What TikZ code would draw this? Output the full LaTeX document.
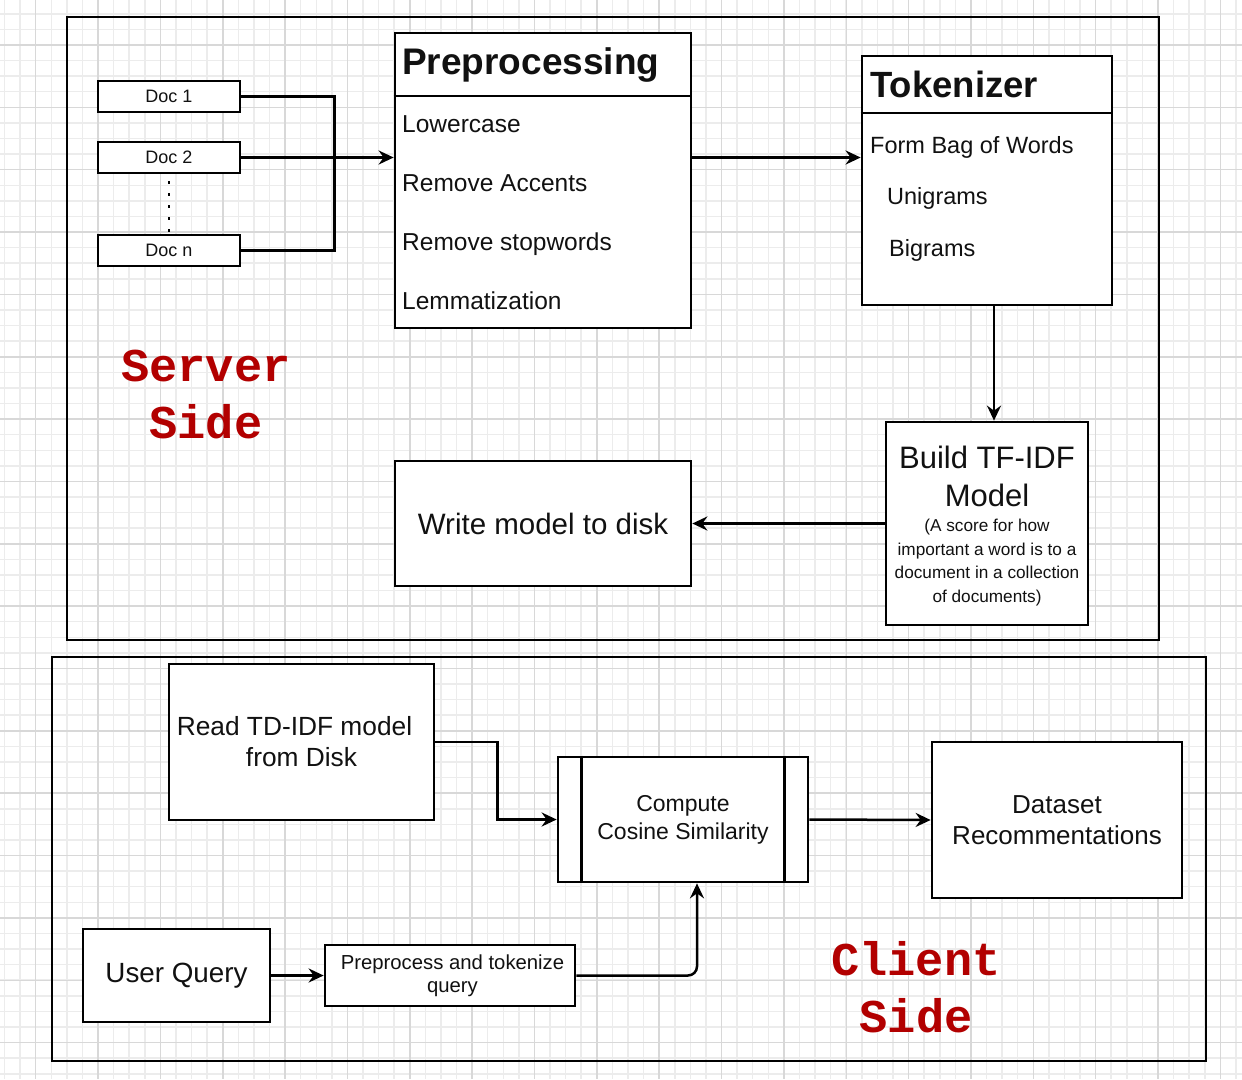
\documentclass[tikz,border=0pt]{standalone}
\usepackage{fontspec}
\setmainfont{Liberation Sans}
\setmonofont{Liberation Mono}
\usetikzlibrary{arrows.meta}
\definecolor{srvred}{RGB}{178,0,0}
\definecolor{gridminor}{RGB}{236,236,236}
\definecolor{gridmajor}{RGB}{216,216,216}
\definecolor{ink}{RGB}{17,17,17}
\newcommand\fsz[2]{\fontsize{#1}{#2}\selectfont}
\begin{document}
\begin{tikzpicture}[x=1pt,y=-1pt,
  box/.style={draw=black, line width=2.7pt, fill=white, inner sep=0pt, text=ink, align=center},
  frame/.style={draw=black, line width=2.7pt, inner sep=0pt},
  conn/.style={draw=black, line width=2.5pt},
  arr/.style={conn, -{Stealth[length=15pt,width=14pt,inset=5pt]}},
  lbl/.style={inner sep=0pt, anchor=base west, text=ink},
  bigred/.style={inner sep=0pt, align=center, text=srvred, font=\ttfamily\bfseries\fsz{47}{57}}
]
\useasboundingbox (0,0) rectangle (1242,1079);
\fill[white] (0,0) rectangle (1242,1079);
% grid
\foreach \i in {0,...,79} {
  \pgfmathsetmacro\gx{4.5+\i*15.5875}
  \draw[gridminor, line width=1.5pt] (\gx,0) -- (\gx,1079);
}
\foreach \i in {0,...,69} {
  \pgfmathsetmacro\gy{13.8+\i*15.5875}
  \draw[gridminor, line width=1.5pt] (0,\gy) -- (1242,\gy);
}
\foreach \i in {0,...,19} {
  \pgfmathsetmacro\gx{35.7+\i*62.35}
  \draw[gridmajor, line width=1.5pt] (\gx,0) -- (\gx,1079);
}
\foreach \i in {0,...,16} {
  \pgfmathsetmacro\gy{45+\i*62.35}
  \draw[gridmajor, line width=1.5pt] (0,\gy) -- (1242,\gy);
}

% outer frames
\node[frame, minimum width=1092, minimum height=623] (server) at (613,328.5) {};
\node[frame, minimum width=1154, minimum height=404] (client) at (629,859) {};

% server side boxes
\node[box, minimum width=142, minimum height=31, font=\fsz{18}{21}] (d1) at (169,96.5) {Doc 1};
\node[box, minimum width=142, minimum height=31, font=\fsz{18}{21}] (d2) at (169,157.5) {Doc 2};
\node[box, minimum width=142, minimum height=31, font=\fsz{18}{21}] (dn) at (169,250.5) {Doc n};

\node[box, minimum width=296, minimum height=295] (pre) at (543,180.5) {};
\draw[line width=2.7pt] (pre.west |- 0,96) -- (pre.east |- 0,96);
\node[lbl, font=\bfseries\fsz{37}{44}] (pretitle) at (402,74) {Preprocessing};
\node[lbl, font=\fsz{24.5}{29}] (pre1) at (402,132.5) {Lowercase};
\node[lbl, font=\fsz{24.5}{29}] (pre2) at (402,191.5) {Remove Accents};
\node[lbl, font=\fsz{24.5}{29}] (pre3) at (402,250.5) {Remove stopwords};
\node[lbl, font=\fsz{24.5}{29}] (pre4) at (402,309.5) {Lemmatization};

\node[box, minimum width=250, minimum height=249] (tok) at (987,180.5) {};
\draw[line width=2.7pt] (tok.west |- 0,113) -- (tok.east |- 0,113);
\node[lbl, font=\bfseries\fsz{36.5}{44}] (toktitle) at (870,97) {Tokenizer};
\node[lbl, font=\fsz{23.5}{28}] (tok1) at (870,153.5) {Form Bag of Words};
\node[lbl, font=\fsz{23.5}{28}] (tok2) at (887,204.5) {Unigrams};
\node[lbl, font=\fsz{23.5}{28}] (tok3) at (889,256.5) {Bigrams};

\node[box, minimum width=202, minimum height=203] (build) at (987,523.5) {};
\node[inner sep=0pt, align=center, text=ink, font=\fsz{31}{38}] (buildtitle) at (987,476) {Build TF-IDF\\Model};
\node[inner sep=0pt, align=center, text=ink, font=\fsz{17.2}{23.7}] (builddesc) at (987,562.5) {(A score for how\\important a word is to a\\document in a collection\\of documents)};

\node[box, minimum width=296, minimum height=125, font=\fsz{29.5}{35}] (write) at (543,523.5) {Write model to disk};

\node[bigred] (srvlabel) at (206,395) {Server\\Side};

% client side boxes
\node[box, minimum width=265, minimum height=156, font=\fsz{26.3}{31}] (read) at (301.5,742) {Read TD-IDF model\kern14pt\\from Disk};
\node[box, minimum width=250, minimum height=125, font=\fsz{23}{28}] (comp) at (683,819.5) {Compute\\Cosine Similarity};
\draw[line width=2.7pt] ([xshift=25pt]comp.north west) -- ([xshift=25pt]comp.south west);
\draw[line width=2.7pt] ([xshift=-25pt]comp.north east) -- ([xshift=-25pt]comp.south east);
\node[box, minimum width=250, minimum height=156, font=\fsz{26}{31}] (data) at (1057,820) {Dataset\\Recommentations};
\node[box, minimum width=187, minimum height=93, font=\fsz{27.8}{33}] (uq) at (176.5,975.5) {User Query};
\node[box, minimum width=250, minimum height=61, font=\fsz{20.3}{23}] (pp) at (450,975.5) {\kern5pt Preprocess and tokenize\\\kern5pt query};

\node[bigred] (clilabel) at (916,987.5) {Client\\Side};

% connectors
\draw[line width=2.8pt, dash pattern=on 2.8pt off 9.2pt, dash phase=-7pt] (d2.south) -- (dn.north);
\draw[conn] (d1.east) -- ++(93,0) |- (dn.east);
\draw[arr] (d2.east) -- (d2.east -| pre.west);
\draw[arr] (d2.east -| pre.east) -- (d2.east -| tok.west);
\draw[arr] ([xshift=7pt]tok.south) -- ([xshift=7pt]build.north);
\draw[arr] (build.west) -- (write.east);
\draw[arr] (read.east) -- ++(62,0) |- (comp.west);
\draw[arr] (comp.east) -- (data.west);
\draw[arr] (uq.east) -- (pp.west);
\draw[arr, rounded corners=9pt] (pp.east) -| ([xshift=14pt]comp.south);
\end{tikzpicture}
\end{document}
